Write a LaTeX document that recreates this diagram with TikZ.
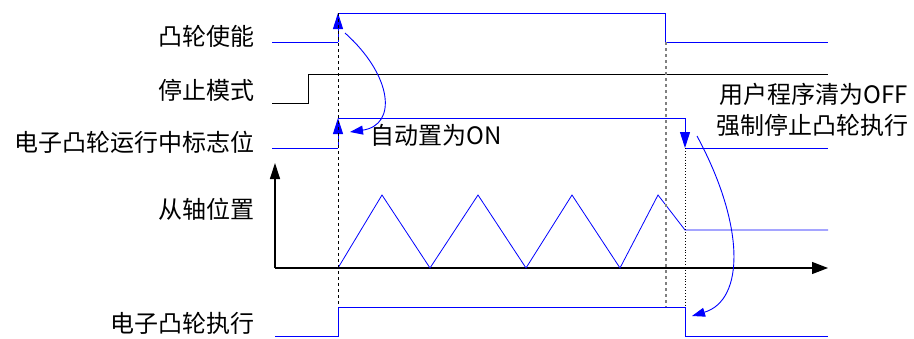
\documentclass[tikz,border=0pt]{standalone}
\usepackage{fontspec}
\setmainfont{Noto Sans CJK SC}
\usetikzlibrary{arrows.meta}
\tikzset{sig/.style={blue,line width=1pt},
  lbl/.style={font=\fontsize{24}{27}\selectfont,inner sep=0pt},
  edgearrow/.style={-{Triangle[length=16pt,width=10pt]}},
  bendarrow/.style={blue,line width=0.9pt,-{Triangle[length=13pt,width=9pt]}}}
\begin{document}
\begin{tikzpicture}[x=1pt,y=-1pt]
\useasboundingbox (0,0) rectangle (914,338);
% create the labels
\node[lbl,anchor=east] (enable) at (255,36) {凸轮使能};
\node[lbl,anchor=east] (stopmode) at (255,90) {停止模式};
\node[lbl,anchor=east] (runflag) at (255,142) {电子凸轮运行中标志位};
\node[lbl,anchor=east] (slave) at (255,209) {从轴位置};
\node[lbl,anchor=east] (exec) at (255,323) {电子凸轮执行};
\node[lbl,anchor=west] (auto) at (370,135) {自动置为ON};
\node[lbl,anchor=west] (clear1) at (719,94) {用户程序清为OFF};
\node[lbl,anchor=west] (clear2) at (716,125) {强制停止凸轮执行};
% the signals
\draw[sig] (272,42) -- (338,42);
\draw[sig,edgearrow] (338,42) -- (338,13);
\draw[sig] (338,13) -- (665,13) -- (665,42) -- (828,42);
\draw[black,line width=0.8pt] (272,103) -- (308,103) -- (308,74) -- (828,74);
\draw[sig] (272,148) -- (338,148);
\draw[sig,edgearrow] (338,148) -- (338,118);
\draw[sig] (338,118) -- (685,118);
\draw[sig,edgearrow] (685,118) -- (685,148);
\draw[sig] (685,148) -- (828,148);
\draw[sig] (275,336) -- (338,336) -- (338,307) -- (685,307) -- (685,336) -- (828,336);
% axes of the slave position
\coordinate (o) at (275,268);
\draw[line width=1.2pt,-{Triangle[length=16pt,width=10pt]}] (o) -- (275,163);
\draw[line width=1.2pt,-{Triangle[length=16pt,width=12pt]}] (o) -- (828,268);
\draw[sig,line width=0.8pt] (338,268)
  \foreach \x in {382,478,572} {-- (\x,195) -- ++(48,73)}
  -- (658,195) -- (685,230) -- (828,230);
% dashed guides
\draw[black,dashed,line width=1pt] (338,13) -- (338,307);
\draw[gray,dashed,line width=2pt] (666,42) -- (666,307);
\draw[black,dotted,line width=0.9pt] (685,148) -- (685,307);
% bent arrows
\coordinate (a1) at (345,33);
\coordinate (b1) at (350,132);
\coordinate (a2) at (697,136);
\coordinate (b2) at (692,316);
\draw[bendarrow] (a1) .. controls (392,75) and (398,125) .. (b1);
\draw[bendarrow] (a2) .. controls (745,225) and (745,300) .. (b2);
\end{tikzpicture}
\end{document}
